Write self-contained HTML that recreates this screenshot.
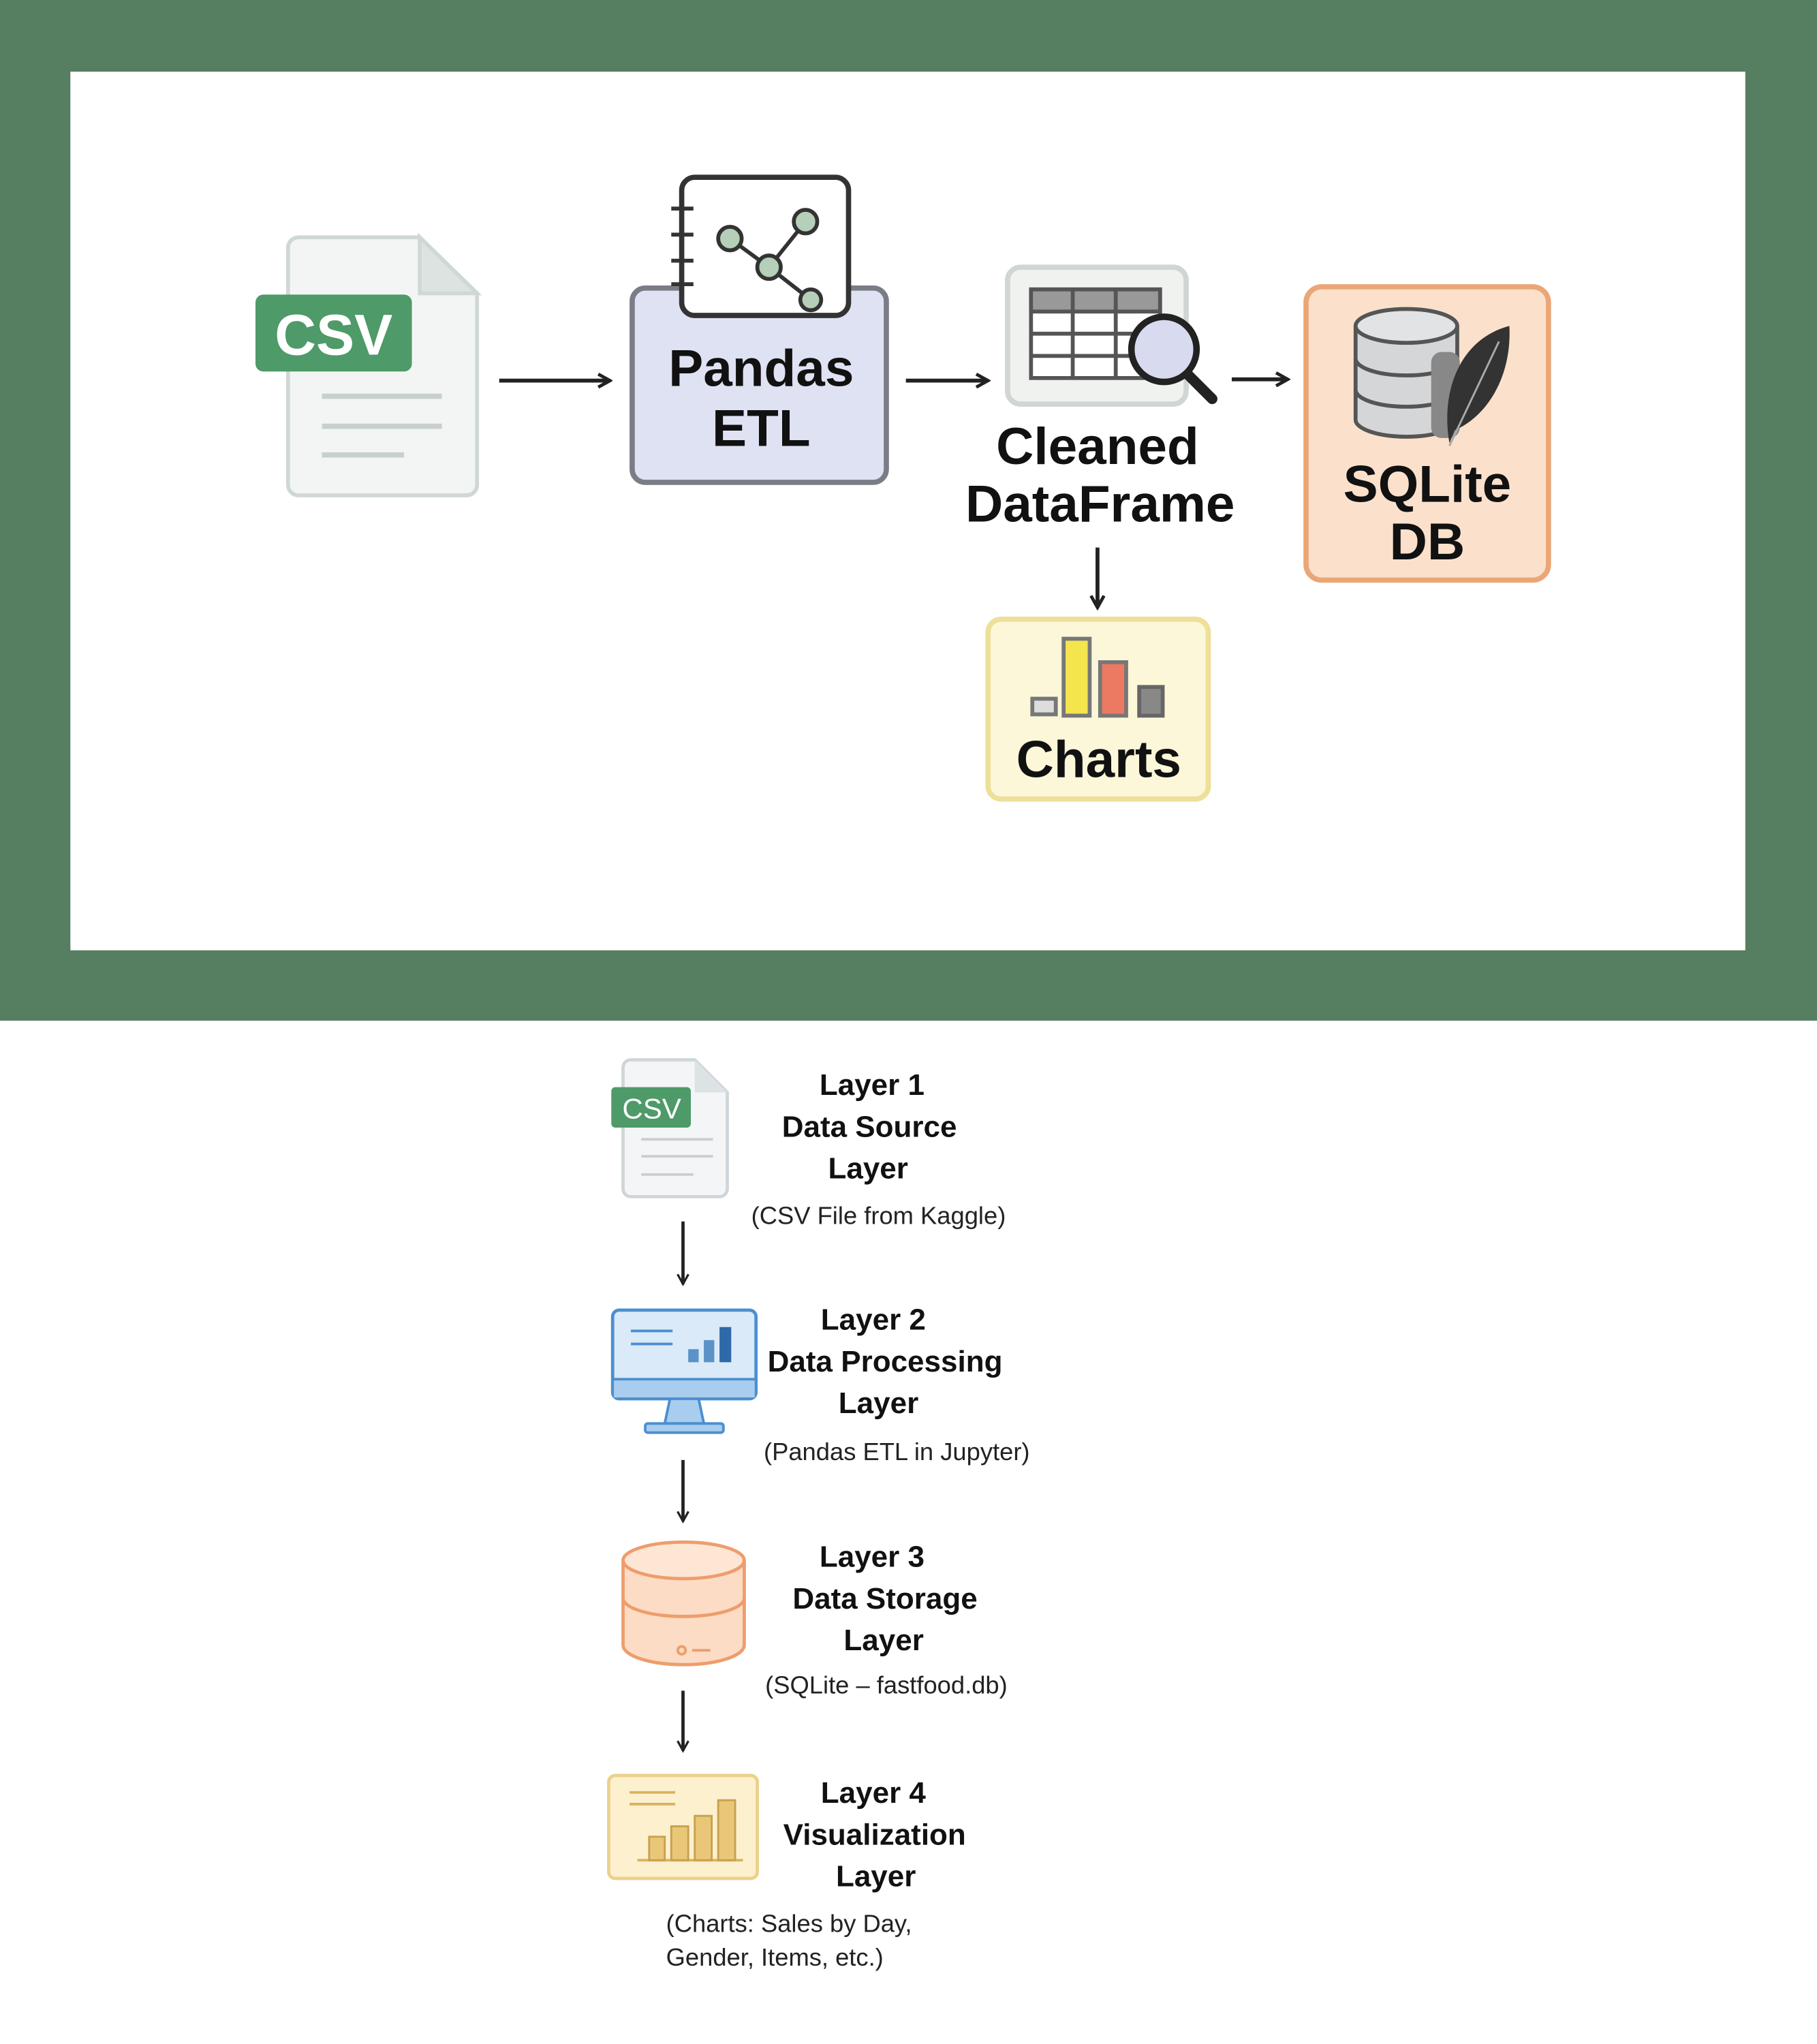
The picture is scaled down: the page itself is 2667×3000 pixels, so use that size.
<!DOCTYPE html>
<html><head><meta charset="utf-8"><style>
html,body{margin:0;padding:0;background:#fff;}
svg{display:block;}
text{font-family:"Liberation Sans",Arial,sans-serif;}
</style></head><body>
<svg width="2667" height="3000" viewBox="0 0 1394 1568" preserveAspectRatio="none" xmlns="http://www.w3.org/2000/svg">
<defs>
<marker id="ah" viewBox="0 0 12 12" refX="10" refY="6" markerWidth="12" markerHeight="12" markerUnits="userSpaceOnUse" orient="auto">
<path d="M1 1 L10 6 L1 11" fill="none" stroke="#222" stroke-width="2.5"/>
</marker>
<marker id="ah2" viewBox="0 0 12 12" refX="10" refY="6" markerWidth="10" markerHeight="10" markerUnits="userSpaceOnUse" orient="auto">
<path d="M1 1 L10 6 L1 11" fill="none" stroke="#222" stroke-width="2"/>
</marker>
</defs>
<rect x="0" y="0" width="1394" height="783" fill="#567e60"/>
<rect x="54" y="55" width="1285" height="674" fill="#fff"/>

<!-- CSV doc -->
<path d="M229 182 H322 L366 225 V372 a8 8 0 0 1 -8 8 H229 a8 8 0 0 1 -8 -8 V190 a8 8 0 0 1 8 -8 Z" fill="#f3f5f4" stroke="#cfd8d6" stroke-width="3"/>
<path d="M322 182 V225 H366 Z" fill="#dde3e1" stroke="#cfd8d6" stroke-width="3"/>
<rect x="196" y="226" width="120" height="59" rx="6" fill="#4e9a68"/>
<text x="256" y="272" text-anchor="middle" font-size="44" font-weight="bold" fill="#fff">CSV</text>
<g stroke="#c8d0cd" stroke-width="4"><line x1="247" y1="304" x2="339" y2="304"/><line x1="247" y1="327" x2="339" y2="327"/><line x1="247" y1="349" x2="310" y2="349"/></g>
<line x1="383" y1="292" x2="468" y2="292" stroke="#222" stroke-width="3" marker-end="url(#ah)"/>

<!-- Pandas -->
<rect x="485" y="221" width="195" height="149" rx="10" fill="#dfe2f3" stroke="#7a7d85" stroke-width="4"/>
<rect x="523" y="136" width="128" height="106" rx="10" fill="#fff" stroke="#333" stroke-width="4"/>
<g stroke="#333" stroke-width="3"><line x1="515" y1="160" x2="532" y2="160"/><line x1="515" y1="180" x2="532" y2="180"/><line x1="515" y1="200" x2="532" y2="200"/><line x1="515" y1="218" x2="532" y2="218"/>
<line x1="560" y1="183" x2="590" y2="205"/><line x1="618" y1="170" x2="590" y2="205"/><line x1="590" y1="205" x2="622" y2="230"/></g>
<g fill="#b6cfb8" stroke="#333" stroke-width="3"><circle cx="560" cy="183" r="9"/><circle cx="618" cy="170" r="9"/><circle cx="590" cy="205" r="9"/><circle cx="622" cy="230" r="8"/></g>
<text x="584" y="296" text-anchor="middle" font-size="40" font-weight="bold" fill="#111">Pandas</text>
<text x="584" y="342" text-anchor="middle" font-size="40" font-weight="bold" fill="#111">ETL</text>
<line x1="695" y1="292" x2="758" y2="292" stroke="#222" stroke-width="3" marker-end="url(#ah)"/>

<!-- DataFrame -->
<rect x="773" y="205" width="137" height="105" rx="10" fill="#f0f2f0" stroke="#cfd6d3" stroke-width="4"/>
<rect x="791" y="222" width="99" height="68" fill="#fff" stroke="#555" stroke-width="3"/>
<rect x="791" y="222" width="99" height="17" fill="#999" stroke="#555" stroke-width="3"/>
<g stroke="#555" stroke-width="3"><line x1="791" y1="256" x2="890" y2="256"/><line x1="791" y1="273" x2="890" y2="273"/><line x1="823" y1="222" x2="823" y2="290"/><line x1="856" y1="222" x2="856" y2="290"/></g>
<line x1="910" y1="286" x2="930" y2="306" stroke="#222" stroke-width="8" stroke-linecap="round"/>
<circle cx="893" cy="268" r="25" fill="#d8dbef" stroke="#222" stroke-width="5"/>
<text x="842" y="356" text-anchor="middle" font-size="40" font-weight="bold" fill="#111">Cleaned</text>
<text x="844" y="400" text-anchor="middle" font-size="40" font-weight="bold" fill="#111">DataFrame</text>
<line x1="945" y1="291" x2="988" y2="291" stroke="#222" stroke-width="3" marker-end="url(#ah)"/>

<!-- SQLite -->
<rect x="1002" y="220" width="186" height="225" rx="12" fill="#fbe1cc" stroke="#eba676" stroke-width="4"/>
<path d="M1040 250 V322 A39 13 0 0 0 1118 322 V250" fill="#d5d6d7" stroke="#555" stroke-width="3"/>
<ellipse cx="1079" cy="250" rx="39" ry="13" fill="#e2e3e4" stroke="#555" stroke-width="3"/>
<path d="M1040 275 A39 13 0 0 0 1118 275 M1040 299 A39 13 0 0 0 1118 299" fill="none" stroke="#555" stroke-width="3"/>
<rect x="1098" y="270" width="22" height="66" rx="8" fill="#888"/>
<path d="M1112 340 C1105 300 1120 260 1158 250 C1160 290 1140 320 1116 330 Z" fill="#333"/>
<line x1="1112" y1="342" x2="1150" y2="262" stroke="#aaa" stroke-width="1.5"/>
<text x="1095" y="385" text-anchor="middle" font-size="40" font-weight="bold" fill="#111">SQLite</text>
<text x="1095" y="429" text-anchor="middle" font-size="40" font-weight="bold" fill="#111">DB</text>

<line x1="842" y1="420" x2="842" y2="466" stroke="#222" stroke-width="3" marker-end="url(#ah)"/>
<!-- Charts -->
<rect x="758" y="475" width="169" height="138" rx="10" fill="#fbf7d8" stroke="#eee09a" stroke-width="4"/>
<rect x="792" y="536" width="18" height="12" fill="#ddd" stroke="#777" stroke-width="3"/>
<rect x="816" y="490" width="20" height="59" fill="#f4e44d" stroke="#777" stroke-width="3"/>
<rect x="844" y="508" width="20" height="41" fill="#ec7a62" stroke="#777" stroke-width="3"/>
<rect x="874" y="527" width="18" height="22" fill="#888" stroke="#666" stroke-width="3"/>
<text x="843" y="596" text-anchor="middle" font-size="40" font-weight="bold" fill="#111">Charts</text>

<!-- Lower section -->
<path d="M484 813 H533 L558 838 V912 a6 6 0 0 1 -6 6 H484 a6 6 0 0 1 -6 -6 V819 a6 6 0 0 1 6 -6 Z" fill="#f3f5f6" stroke="#cfd6da" stroke-width="2.5"/>
<path d="M533 813 V838 H558 Z" fill="#dde2e5"/>
<rect x="469" y="834" width="61" height="31" rx="3" fill="#4e9a68"/>
<text x="500" y="858" text-anchor="middle" font-size="22" fill="#fff">CSV</text>
<g stroke="#c8d0cd" stroke-width="2"><line x1="492" y1="874" x2="547" y2="874"/><line x1="492" y1="887" x2="547" y2="887"/><line x1="492" y1="901" x2="532" y2="901"/></g>
<g font-size="23" font-weight="bold" fill="#111" text-anchor="middle">
<text x="669" y="840">Layer 1</text><text x="667" y="872">Data Source</text><text x="666" y="904">Layer</text>
<text x="670" y="1020">Layer 2</text><text x="679" y="1052">Data Processing</text><text x="674" y="1084">Layer</text>
<text x="669" y="1202">Layer 3</text><text x="679" y="1234">Data Storage</text><text x="678" y="1266">Layer</text>
<text x="670" y="1383">Layer 4</text><text x="671" y="1415">Visualization</text><text x="672" y="1447">Layer</text>
</g>
<g font-size="19" fill="#222">
<text x="674" y="939" text-anchor="middle">(CSV File from Kaggle)</text>
<text x="688" y="1120" text-anchor="middle">(Pandas ETL in Jupyter)</text>
<text x="680" y="1299" text-anchor="middle">(SQLite – fastfood.db)</text>
<text x="511" y="1482">(Charts: Sales by Day,</text>
<text x="511" y="1508">Gender, Items, etc.)</text>
</g>
<g stroke="#222" stroke-width="2.5">
<line x1="524" y1="937" x2="524" y2="985" marker-end="url(#ah2)"/>
<line x1="524" y1="1120" x2="524" y2="1167" marker-end="url(#ah2)"/>
<line x1="524" y1="1297" x2="524" y2="1343" marker-end="url(#ah2)"/>
</g>
<!-- monitor -->
<rect x="470" y="1005" width="110" height="68" rx="5" fill="#dbeaf8" stroke="#4b8fd0" stroke-width="2.5"/>
<rect x="471" y="1058" width="108" height="14" fill="#a9cdee"/>
<line x1="470" y1="1058" x2="580" y2="1058" stroke="#4b8fd0" stroke-width="2"/>
<path d="M514 1073 L510 1092 H540 L536 1073 Z" fill="#a9cdee" stroke="#4b8fd0" stroke-width="2"/>
<rect x="495" y="1092" width="60" height="7" rx="2" fill="#a9cdee" stroke="#4b8fd0" stroke-width="2"/>
<g stroke="#4b8fd0" stroke-width="2"><line x1="484" y1="1021" x2="516" y2="1021"/><line x1="484" y1="1031" x2="516" y2="1031"/></g>
<rect x="528" y="1035" width="8" height="10" fill="#5b92c8"/><rect x="540" y="1028" width="8" height="17" fill="#5b92c8"/><rect x="552" y="1018" width="9" height="27" fill="#2f6aa8"/>
<!-- cylinder -->
<path d="M478 1197 V1262 A46.5 15 0 0 0 571 1262 V1197" fill="#fcdcc4" stroke="#ee9d6d" stroke-width="2.5"/>
<ellipse cx="524.5" cy="1197" rx="46.5" ry="14" fill="#fde6d4" stroke="#ee9d6d" stroke-width="2.5"/>
<path d="M478 1226 A46.5 14 0 0 0 571 1226" fill="none" stroke="#ee9d6d" stroke-width="2.5"/>
<circle cx="523" cy="1266" r="3" fill="none" stroke="#ee9d6d" stroke-width="2"/><line x1="531" y1="1266" x2="545" y2="1266" stroke="#ee9d6d" stroke-width="2"/>
<!-- viz -->
<rect x="467" y="1362" width="114" height="79" rx="5" fill="#fcf0cf" stroke="#ecd08a" stroke-width="2.5"/>
<g stroke="#d9b35c" stroke-width="2"><line x1="483" y1="1375" x2="518" y2="1375"/><line x1="483" y1="1384" x2="518" y2="1384"/><line x1="489" y1="1427" x2="570" y2="1427"/></g>
<g fill="#e8c878" stroke="#c9a04e" stroke-width="1.5"><rect x="498" y="1409" width="12" height="18"/><rect x="515" y="1401" width="13" height="26"/><rect x="533" y="1393" width="13" height="34"/><rect x="551" y="1381" width="13" height="46"/></g>
</svg>
</body></html>
